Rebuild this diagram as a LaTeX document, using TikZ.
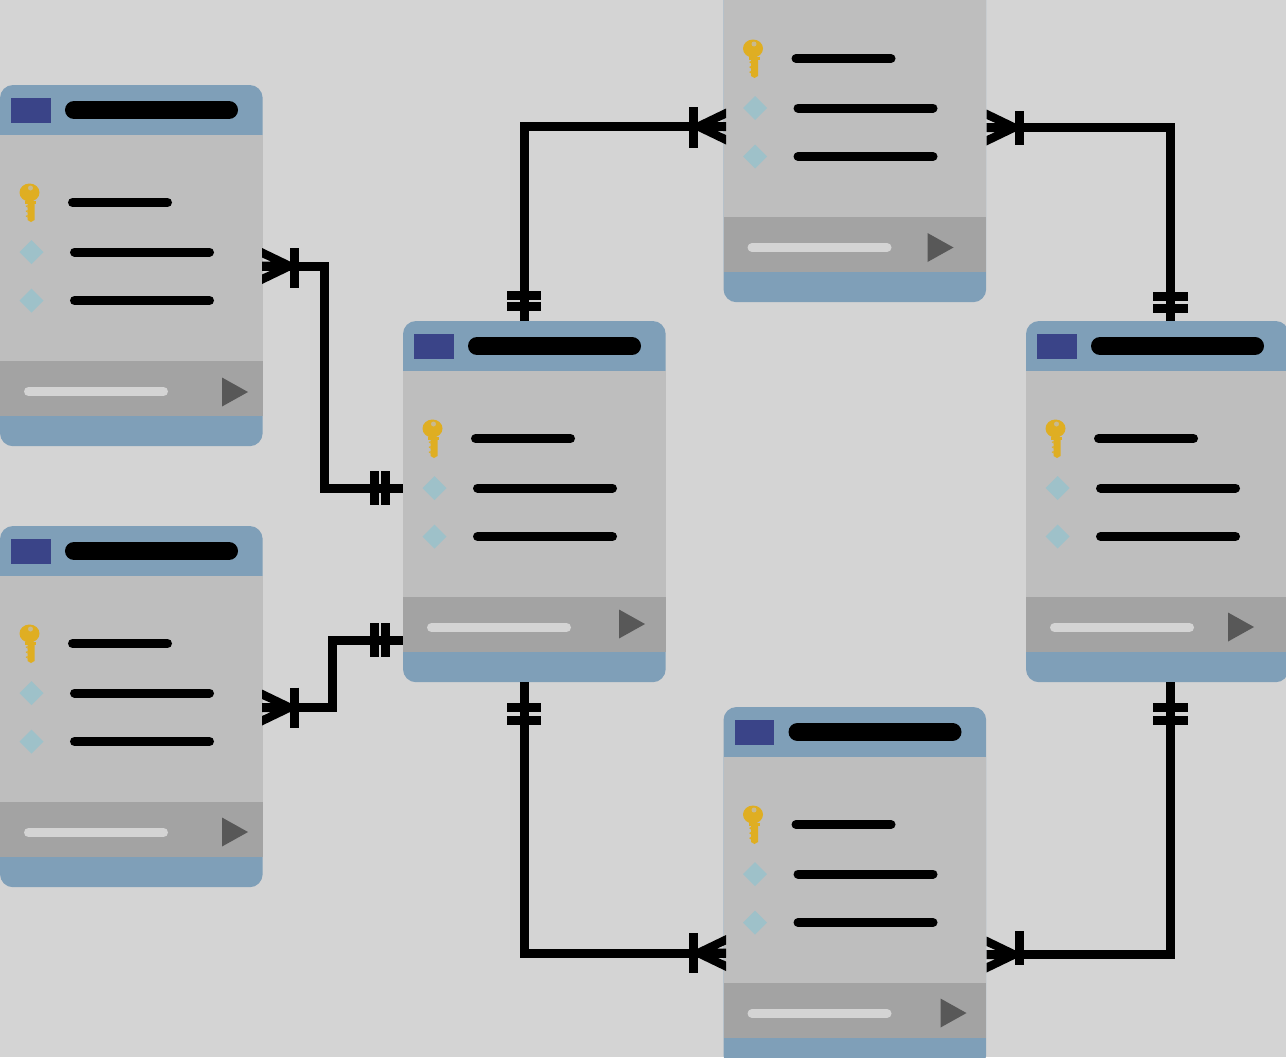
\documentclass[tikz,border=0pt]{standalone}
\usepackage{tikz}

\definecolor{pagegray}{HTML}{D4D4D4}
\definecolor{headblue}{HTML}{7F9FB8}
\definecolor{bodygray}{HTML}{BEBEBE}
\definecolor{footgray}{HTML}{A3A3A3}
\definecolor{tagblue}{HTML}{3A4488}
\definecolor{keygold}{HTML}{DFAE22}
\definecolor{rowteal}{HTML}{9EC1C9}
\definecolor{playgray}{HTML}{585858}

\tikzset{
  tablenode/.style={fill=headblue,rounded corners=0.13cm,inner sep=0pt,outer sep=0pt,
    minimum width=2.625cm,minimum height=3.61cm,anchor=north west},
  rowline/.style={line width=0.09cm,line cap=round},
  titleline/.style={line width=0.18cm,line cap=round},
  link/.style={line width=0.09cm},
  crossbar/.style={line width=0.09cm},
  crowfoot/.pic={
    \fill (0,-18) -- (28,-4.5) -- (28,4.5) -- (0,18) -- (0,8.5) -- (9,4.5) -- (0,4.5)
      -- (0,-4.5) -- (9,-4.5) -- (0,-8.5) -- cycle;
  },
  keyicon/.pic={
    \fill[keygold] (27.5,18) -- (34.5,18) -- (34.5,37) -- (31,39) -- (27.5,37) -- cycle;
    \fill[keygold] (25,18) rectangle (36,20.5);
    \foreach \t in {22,27,32} \fill[keygold] (27.5,\t) -- (25.5,\t+1) -- (27.5,\t+2.5) -- cycle;
    \fill[keygold] (29.5,9.5) ellipse (10 and 9);
    \fill[bodygray!70!keygold] (30.5,5) circle (2.5);
  },
}

\newcommand{\dbtable}[5]{
  \node[tablenode] (#1) at (#2,#3) {};
  \begin{scope}[shift={(#2,#3)}]
    \fill[bodygray] (0,50) rectangle (262.5,276);
    \fill[footgray] (0,276) rectangle (262.5,331);
    \fill[tagblue] (11,13) rectangle (50.5,37.5);
    \draw[titleline] (74,25) -- (229,25);
    \pic at (0,98) {keyicon};
    \draw[rowline] (72.5,117.5) -- (167.5,117.5);
    \foreach \rowy in {167,215.5} {
      \fill[rowteal] (31.5,\rowy-12) -- (43.5,\rowy) -- (31.5,\rowy+12) -- (19.5,\rowy) -- cycle;
      \draw[rowline] (74.5,\rowy) -- (209.5,\rowy);
    }
    \draw[rowline,pagegray] (28.5,306.5) -- (163.5,306.5);
    \fill[playgray] (#4,#5-14.5) -- (#4+26,#5) -- (#4,#5+14.5) -- cycle;
  \end{scope}
}

\begin{document}
\begin{tikzpicture}[x=0.01cm,y=-0.01cm]
  \clip (0,0) rectangle (1286,1057);
  \fill[pagegray] (0,0) rectangle (1286,1057);

  \dbtable{customers}{0}{85}{222}{307}
  \dbtable{accounts}{0}{526}{222}{306}
  \dbtable{orders}{403}{321}{216}{303}
  \dbtable{products}{723.5}{-59}{204}{306.5}
  \dbtable{suppliers}{1026}{321}{202}{306}
  \dbtable{shipments}{723.5}{707}{217}{306}

  \coordinate (customersout) at (262,266);
  \coordinate (ordersinA) at (403,488);
  \coordinate (accountsout) at (262,707.5);
  \coordinate (ordersinB) at (403,640);
  \coordinate (orderstop) at (524,321);
  \coordinate (productsin) at (726,126.5);
  \coordinate (productsout) at (986.5,127.5);
  \coordinate (supplierstop) at (1170,321);
  \coordinate (ordersbot) at (524,682);
  \coordinate (shipmentsin) at (726,953);
  \coordinate (shipmentsout) at (986.5,954.5);
  \coordinate (suppliersbot) at (1170,682);
  \coordinate (bendA) at (324.5,400);
  \coordinate (bendB) at (332.5,670);

  \draw[link] (customersout) -| (bendA) |- (ordersinA);
  \draw[link] (accountsout) -| (bendB) |- (ordersinB);
  \draw[link] (orderstop) |- (productsin);
  \draw[link] (productsout) -| (supplierstop);
  \draw[link] (ordersbot) |- (shipmentsin);
  \draw[link] (shipmentsout) -| (suppliersbot);

  \pic at (customersout) {crowfoot};
  \pic at (accountsout) {crowfoot};
  \pic[rotate=180] at (productsin) {crowfoot};
  \pic at (productsout) {crowfoot};
  \pic[rotate=180] at (shipmentsin) {crowfoot};
  \pic at (shipmentsout) {crowfoot};

  \draw[crossbar] (294.5,248) -- (294.5,288);
  \draw[crossbar] (294.5,687.5) -- (294.5,727.5);
  \draw[crossbar] (693,107) -- (693,148);
  \draw[crossbar] (1019.5,111) -- (1019.5,145);
  \draw[crossbar] (693,933) -- (693,973);
  \draw[crossbar] (1019.5,931) -- (1019.5,965);
  \foreach \barx in {374.5,385.5} {
    \draw[crossbar] (\barx,471) -- (\barx,505);
    \draw[crossbar] (\barx,623) -- (\barx,657);
  }
  \foreach \bary in {295,306.5} \draw[crossbar] (507,\bary) -- (541,\bary);
  \foreach \bary in {296.5,308} \draw[crossbar] (1153,\bary) -- (1188,\bary);
  \foreach \bary in {707.5,720} {
    \draw[crossbar] (507,\bary) -- (541,\bary);
    \draw[crossbar] (1153,\bary) -- (1188,\bary);
  }
\end{tikzpicture}
\end{document}
